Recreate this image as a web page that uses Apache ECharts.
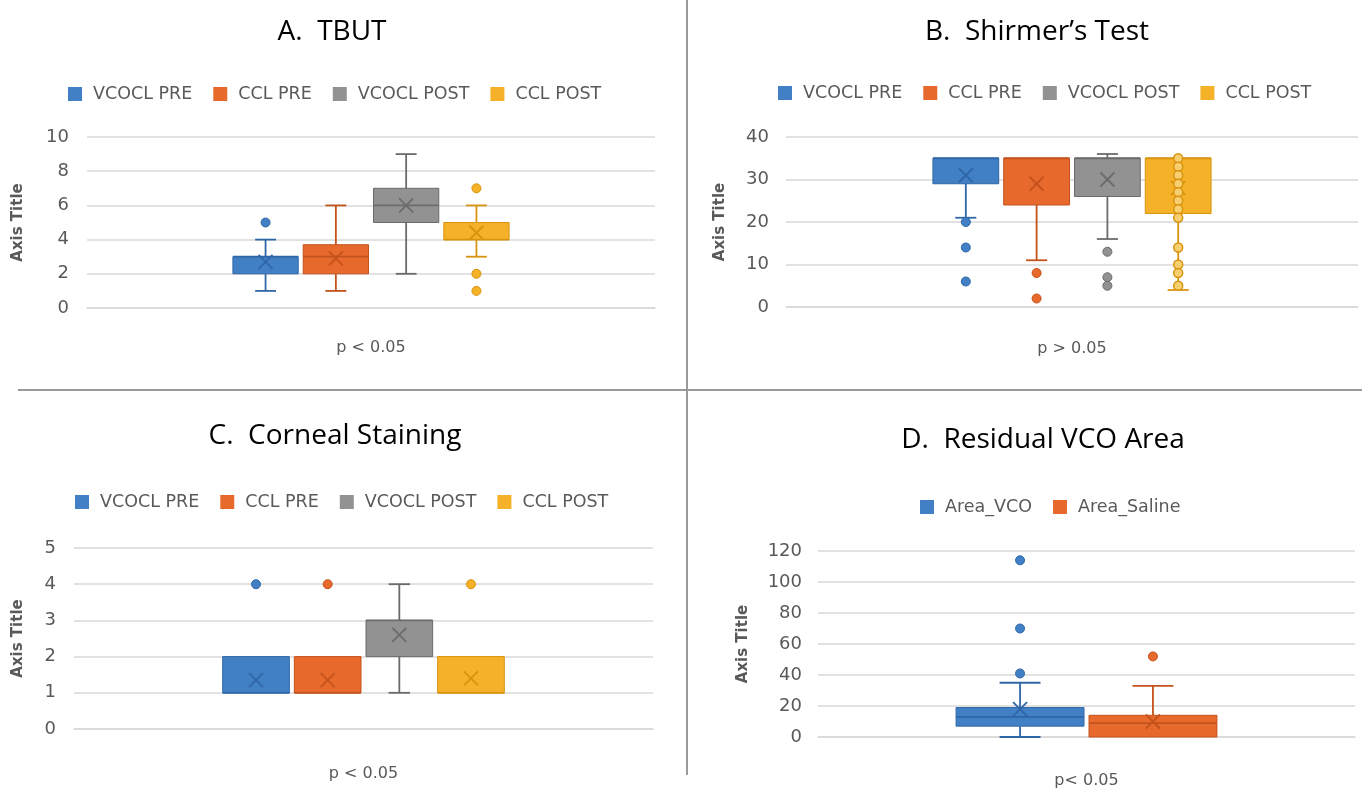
<!DOCTYPE html>
<html><head><meta charset="utf-8">
<script src="https://cdn.jsdelivr.net/npm/echarts@6/dist/echarts.min.js"></script>
<style>html,body{margin:0;padding:0;background:#fff}#c{width:1362px;height:793px}</style>
</head><body><div id="c"></div>
<script>
// ---------- data ----------
const groupNames = ['VCOCL PRE', 'CCL PRE', 'VCOCL POST', 'CCL POST'];
const areaNames = ['Area_VCO', 'Area_Saline'];

// box stats per group: [min whisker, Q1, median, Q3, max whisker]
const tbutBoxes = [[1, 2, 3, 3, 4], [1, 2, 3, 3.7, 6], [2, 5, 6, 7, 9], [3, 4, 4, 5, 6]];
const tbutMeans = [2.7, 2.9, 6.0, 4.4];
const tbutPoints = [[5], [], [], [7, 2, 1]];

const schirmerBoxes = [[21, 29, 35, 35, 35], [11, 24, 35, 35, 35], [16, 26, 35, 35, 36], [4, 22, 35, 35, 35]];
const schirmerMeans = [31, 29, 30, 28];
const schirmerPoints = [[20, 14, 6], [8, 2], [13, 7, 5], [35, 33, 31, 29, 27, 25, 23, 21, 14, 10, 8, 5]];

const stainBoxes = [[1, 1, 1, 2, 2], [1, 1, 1, 2, 2], [1, 2, 3, 3, 4], [1, 1, 1, 2, 2]];
const stainMeans = [1.35, 1.35, 2.6, 1.4];
const stainPoints = [[4], [4], [], [4]];

const areaBoxes = [[0, 7, 13, 19, 35], [0, 0, 9, 14, 33]];
const areaMeans = [18, 10];
const areaPoints = [[41, 70, 114], [52]];

// y axis ranges: [min, max, interval]
const tbutAxis = [0, 10, 2];
const schirmerAxis = [0, 40, 10];
const stainAxis = [0, 5, 1];
const areaAxis = [0, 120, 20];

const titles = ['A.  TBUT', 'B.  Shirmer\u2019s Test', 'C.  Corneal Staining', 'D.  Residual VCO Area'];
const xNames = ['p < 0.05', 'p > 0.05', 'p < 0.05', 'p< 0.05'];
const yName = 'Axis Title';

// ---------- styles ----------
const fills = ['#4280C6', '#E8692C', '#929292', '#F5B127'];
const strokes = ['#2F66A6', '#C4521C', '#6B6B6B', '#D8930F'];
const TFONT = "'Open Sans', 'Noto Sans', sans-serif";
const FONT = "'DejaVu Sans', 'Noto Sans', sans-serif";
const TXT = '#595959';

const panels = [
  { names: groupNames, boxes: tbutBoxes, means: tbutMeans, points: tbutPoints, axis: tbutAxis,
    grid: { left: 87, top: 137, width: 568, height: 171 }, titleXY: [332, 32], legendPos: [63, 80],
    yGap: 61, xGap: 32, labelMargin: 18, hollowLast: false },
  { names: groupNames, boxes: schirmerBoxes, means: schirmerMeans, points: schirmerPoints, axis: schirmerAxis,
    grid: { left: 786, top: 137, width: 572, height: 170 }, titleXY: [1037, 32], legendPos: [773, 79],
    yGap: 58, xGap: 34, labelMargin: 17, hollowLast: true },
  { names: groupNames, boxes: stainBoxes, means: stainMeans, points: stainPoints, axis: stainAxis,
    grid: { left: 74, top: 548, width: 579, height: 181 }, titleXY: [335, 436], legendPos: [70, 488],
    yGap: 48, xGap: 37, labelMargin: 18, hollowLast: false },
  { names: areaNames, boxes: areaBoxes, means: areaMeans, points: areaPoints, axis: areaAxis,
    grid: { left: 818, top: 551, width: 537, height: 186 }, titleXY: [1043, 440], legendPos: [915, 493],
    yGap: 67, xGap: 36, labelMargin: 16, hollowLast: false }
];

const grids = [], xAxes = [], yAxes = [], series = [], legends = [], graphics = [];

panels.forEach((p, pi) => {
  grids.push(Object.assign({ containLabel: false }, p.grid));
  xAxes.push({
    type: 'category', gridIndex: pi, data: [''],
    axisTick: { show: false }, axisLabel: { show: false },
    axisLine: { show: true, lineStyle: { color: '#d9d9d9', width: 1.5 } },
    name: xNames[pi], nameLocation: 'middle', nameGap: p.xGap,
    nameTextStyle: { color: TXT, fontSize: 16, fontFamily: FONT }
  });
  yAxes.push({
    type: 'value', gridIndex: pi, min: p.axis[0], max: p.axis[1], interval: p.axis[2],
    axisLine: { show: false }, axisTick: { show: false },
    axisLabel: { color: TXT, fontSize: 18, fontFamily: FONT, margin: p.labelMargin },
    splitLine: { lineStyle: { color: '#d9d9d9', width: 1.5 } },
    name: yName, nameLocation: 'middle', nameRotate: 90, nameGap: p.yGap,
    nameTextStyle: { color: TXT, fontSize: 15, fontWeight: 'bold', fontFamily: FONT }
  });
  legends.push({
    left: p.legendPos[0], top: p.legendPos[1], data: p.names.slice(),
    icon: 'rect', itemWidth: 14, itemHeight: 14, itemGap: 21,
    textStyle: { color: TXT, fontSize: 17.5, fontFamily: FONT, padding: [0, 0, 0, 6] }, selectedMode: false
  });
  graphics.push({
    type: 'text', x: p.titleXY[0], y: p.titleXY[1],
    style: { text: titles[pi], fill: '#000', fontSize: 28, fontFamily: TFONT,
      textAlign: 'center', textVerticalAlign: 'middle' }
  });

  const n = p.names.length;
  const layout = (api, si) => {
    const c = api.coord([0, 0]);
    const band = api.size([1, 0])[0];
    const gw = band * 0.495;
    const sw = gw / n;
    const bw = sw - 5;
    return { cx: c[0] - gw / 2 + sw * (si + 0.5), bw };
  };

  p.names.forEach((nm, si) => {
    series.push({
      type: 'custom', name: nm, xAxisIndex: pi, yAxisIndex: pi,
      itemStyle: { color: fills[si] },
      encode: { x: 0, y: [1, 2, 3, 4, 5, 6] },
      data: [[0].concat(p.boxes[si], [p.means[si]])],
      renderItem: (params, api) => {
        const { cx, bw } = layout(api, si);
        const Y = k => api.coord([0, api.value(k)])[1];
        const vMin = api.value(1), vQ1 = api.value(2), vQ3 = api.value(4), vMax = api.value(5);
        const yMin = Y(1), yQ1 = Y(2), yMed = Y(3), yQ3 = Y(4), yMax = Y(5), yMean = Y(6);
        const cap = bw * 0.32;
        const ls = { stroke: strokes[si], lineWidth: 1.8 };
        const ch = [];
        if (vMax > vQ3) {
          ch.push({ type: 'line', shape: { x1: cx, y1: yQ3, x2: cx, y2: yMax }, style: ls });
          ch.push({ type: 'line', shape: { x1: cx - cap / 2, y1: yMax, x2: cx + cap / 2, y2: yMax }, style: ls });
        }
        if (vMin < vQ1) {
          ch.push({ type: 'line', shape: { x1: cx, y1: yQ1, x2: cx, y2: yMin }, style: ls });
          ch.push({ type: 'line', shape: { x1: cx - cap / 2, y1: yMin, x2: cx + cap / 2, y2: yMin }, style: ls });
        }
        ch.push({ type: 'rect', shape: { x: cx - bw / 2, y: yQ3, width: bw, height: yQ1 - yQ3 },
          style: { fill: fills[si], stroke: strokes[si], lineWidth: 1 } });
        ch.push({ type: 'line', shape: { x1: cx - bw / 2, y1: yMed, x2: cx + bw / 2, y2: yMed }, style: ls });
        const m = 7;
        ch.push({ type: 'line', shape: { x1: cx - m, y1: yMean - m, x2: cx + m, y2: yMean + m }, style: ls });
        ch.push({ type: 'line', shape: { x1: cx - m, y1: yMean + m, x2: cx + m, y2: yMean - m }, style: ls });
        return { type: 'group', children: ch };
      }
    });
  });

  p.names.forEach((nm, si) => {
    if (!p.points[si].length) return;
    const hollow = p.hollowLast && si === n - 1;
    series.push({
      type: 'custom', name: nm, xAxisIndex: pi, yAxisIndex: pi,
      itemStyle: { color: fills[si] },
      encode: { x: 0, y: 1 },
      data: p.points[si].map(v => [0, v]),
      z: 3,
      renderItem: (params, api) => {
        const { cx } = layout(api, si);
        const y = api.coord([0, api.value(1)])[1];
        return { type: 'circle', shape: { cx: cx, cy: y, r: 4.5 },
          style: { fill: hollow ? '#F8CF6E' : fills[si], stroke: strokes[si], lineWidth: hollow ? 1.5 : 1 } };
      }
    });
  });
});

// panel dividers
graphics.push({ type: 'line', shape: { x1: 687, y1: 0, x2: 687, y2: 775 }, style: { stroke: '#9a9a9a', lineWidth: 2 }, silent: true });
graphics.push({ type: 'line', shape: { x1: 18, y1: 390, x2: 1362, y2: 390 }, style: { stroke: '#9a9a9a', lineWidth: 2 }, silent: true });

const chart = echarts.init(document.getElementById('c'), null, { renderer: 'canvas' });
chart.setOption({
  backgroundColor: '#ffffff',
  animation: false,
  grid: grids, xAxis: xAxes, yAxis: yAxes, legend: legends, series: series, graphic: graphics
});
</script>
</body></html>
